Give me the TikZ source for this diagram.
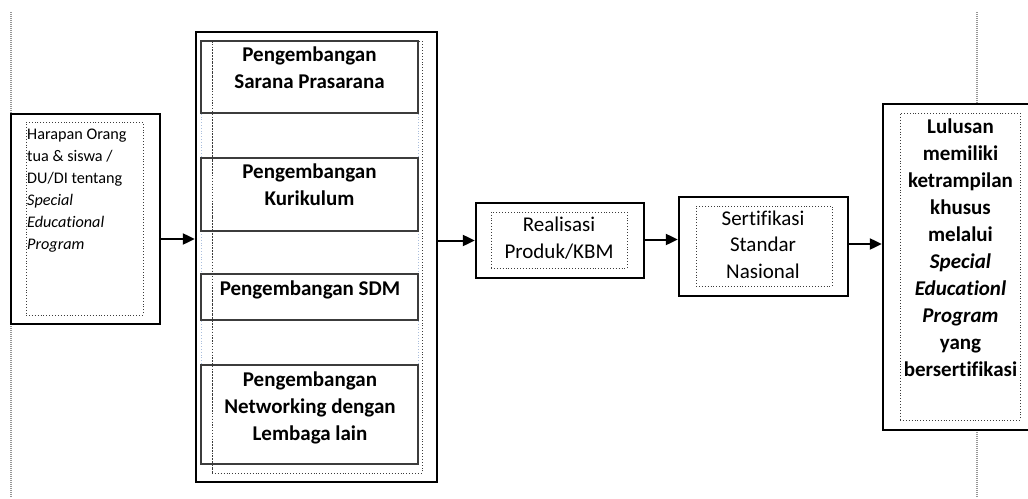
\documentclass[tikz,border=0pt]{standalone}
\usepackage{fontspec}
\setmainfont{Carlito}[Ligatures=CommonOff]
\usetikzlibrary{arrows.meta}
\definecolor{pageline}{RGB}{150,150,150}
\definecolor{guide}{RGB}{170,190,220}
\definecolor{subline}{RGB}{60,60,60}
\tikzset{
  outerbox/.style={draw=black, line width=2.3pt, inner sep=0pt, fill=white},
  innerbox/.style={draw=subline, line width=0.9pt, dotted, inner sep=0pt},
  subbox/.style={draw=subline, line width=1.3pt, inner sep=0pt},
  btxt/.style={font=\fontsize{21}{27}\selectfont\bfseries, align=center, inner sep=0pt, anchor=base},
  rtxt/.style={font=\fontsize{21}{26.5}\selectfont, align=center, inner sep=0pt, anchor=base},
  ltxt/.style={font=\fontsize{16.2}{22}\selectfont, align=left, inner sep=0pt, anchor=base west},
  arr/.style={line width=2pt, -{Triangle[length=12pt,width=11pt]}},
  margin/.style={draw=pageline, line width=1.2pt, dash pattern=on 1pt off 1pt}
}
\begin{document}
\begin{tikzpicture}[x=1pt,y=-1pt]
\clip (0,0) rectangle (1028,498);
\fill[white] (0,0) rectangle (1028,498);

% page margin guides
\draw[margin] (11,12) -- (11,498);
\draw[margin] (977,12) -- (977,498);

% input box (text anchored at the baseline of its last line)
\node[outerbox, minimum width=149pt, minimum height=210pt] (L) at (85.5,219) {};
\node[innerbox, minimum width=117pt, minimum height=193pt] (Li) at (84.5,218.5) {};
\node[ltxt] (Lt) at (27,249.3) {Harapan Orang\\tua \& siswa /\\DU/DI tentang\\\itshape Special\\\itshape Educational\\\itshape Program};

% development block
\node[outerbox, minimum width=241pt, minimum height=450pt] (B) at (316.5,257) {};
\draw[guide, line width=0.8pt, dotted] (201,41) -- (201,464);
\draw[guide, line width=0.8pt, dotted] (418,41) -- (418,464);
\node[innerbox, minimum width=210pt, minimum height=432pt] (Bi) at (317,257) {};
\node[subbox, minimum width=217pt, minimum height=72pt] (S1) at (309.5,77) {};
\node[subbox, minimum width=217pt, minimum height=73pt] (S2) at (309.5,194.5) {};
\node[subbox, minimum width=217pt, minimum height=46pt] (S3) at (309.5,297) {};
\node[subbox, minimum width=217pt, minimum height=99pt] (S4) at (309.5,414.5) {};
\draw[subline, line width=0.8pt, dotted] (212,41) -- (212,473);
\node[btxt] (T1) at (309.5,88.3) {Pengembangan\\Sarana Prasarana};
\node[btxt] (T2) at (309.5,205) {Pengembangan\\Kurikulum};
\node[btxt] (T3) at (310,295) {Pengembangan SDM};
\node[btxt] (T4) at (310,440) {Pengembangan\\Networking dengan\\Lembaga lain};

% realisation
\node[outerbox, minimum width=168pt, minimum height=75pt] (R) at (560,240.5) {};
\node[innerbox, minimum width=136pt, minimum height=56pt] (Ri) at (559,240) {};
\node[rtxt] (Rt) at (559,258.3) {Realisasi\\Produk/KBM};

% certification
\node[outerbox, minimum width=169pt, minimum height=99pt] (C) at (763.5,246.5) {};
\node[innerbox, minimum width=136pt, minimum height=80pt] (Ci) at (764,246) {};
\node[rtxt] (Ct) at (763,278) {Sertifikasi\\Standar\\Nasional};

% outcome
\node[outerbox, minimum width=162pt, minimum height=326pt] (F) at (964,267) {};
\node[innerbox, minimum width=120pt, minimum height=307pt] (Fi) at (960,266.5) {};
\node[btxt] (Ft) at (960.5,376.7) {Lulusan\\memiliki\\ketrampilan\\khusus\\melalui\\\itshape Special\\\itshape Educationl\\\itshape Program\\yang\\bersertifikasi};

% connectors
\draw[arr] ([yshift=-20pt]L.east) -- ([yshift=-20pt]L.east -| B.west);
\draw[arr] (B.east |- R.west) -- (R.west);
\draw[arr] ([yshift=7pt]C.west -| R.east) -- ([yshift=7pt]C.west);
\draw[arr] ([yshift=2.5pt]C.east) -- ([yshift=2.5pt]C.east -| F.west);
\end{tikzpicture}
\end{document}
